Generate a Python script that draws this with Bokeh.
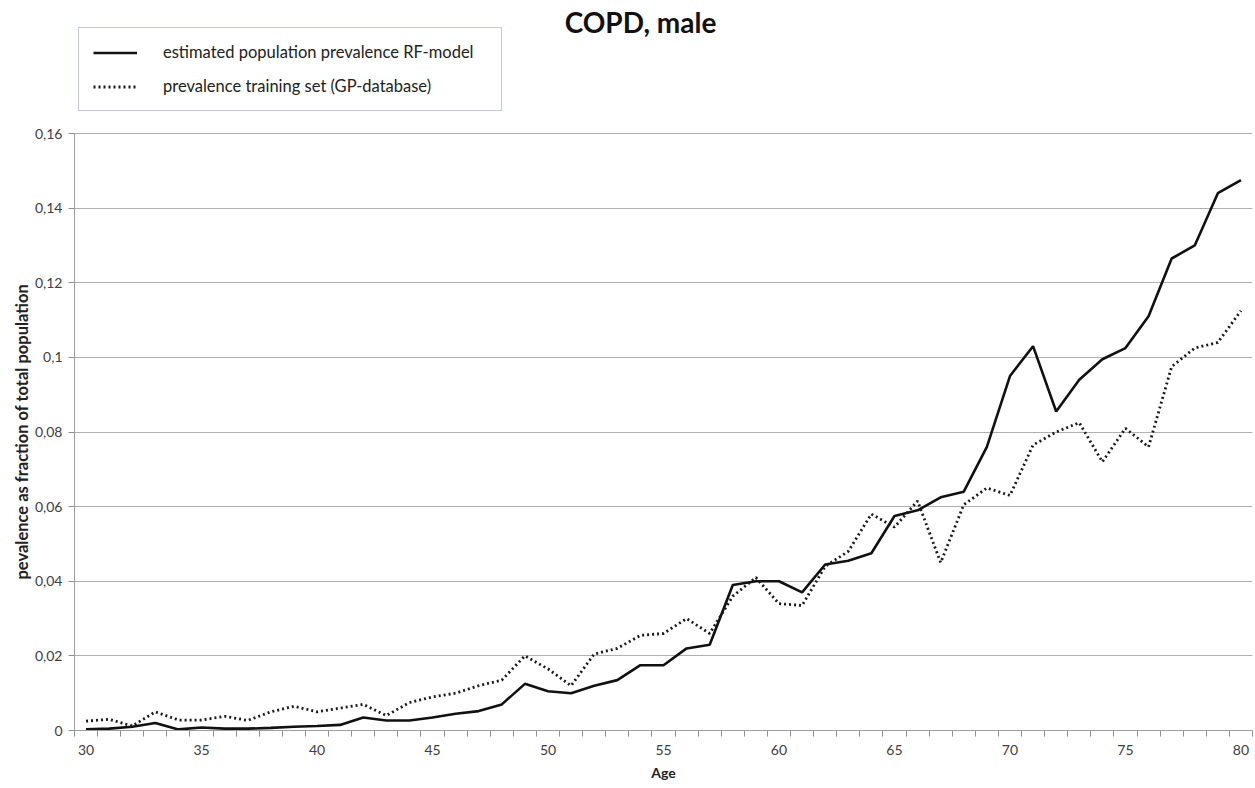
from bokeh.plotting import figure
from bokeh.models import Range1d, FixedTicker, Legend, LegendItem, Label, Title
from bokeh.embed import file_html
from bokeh.resources import INLINE

ages = list(range(30, 81))
rf_model = [0.0003, 0.0005, 0.0010, 0.0020, 0.0003, 0.0008, 0.0005, 0.0005, 0.0007, 0.0010,
            0.0012, 0.0015, 0.0035, 0.0027, 0.0027, 0.0035, 0.0045, 0.0052, 0.0070, 0.0125,
            0.0105, 0.0100, 0.0120, 0.0135, 0.0175, 0.0175, 0.0220, 0.0230, 0.0390, 0.0400,
            0.0400, 0.0370, 0.0445, 0.0455, 0.0475, 0.0575, 0.0590, 0.0625, 0.0640, 0.0760,
            0.0950, 0.1030, 0.0855, 0.0940, 0.0995, 0.1025, 0.1110, 0.1265, 0.1300, 0.1440,
            0.1475]
gp_database = [0.0025, 0.0030, 0.0012, 0.0050, 0.0028, 0.0028, 0.0038, 0.0027, 0.0050, 0.0065,
               0.0050, 0.0060, 0.0070, 0.0040, 0.0075, 0.0090, 0.0100, 0.0120, 0.0135, 0.0200,
               0.0165, 0.0120, 0.0205, 0.0220, 0.0255, 0.0260, 0.0300, 0.0260, 0.0360, 0.0410,
               0.0340, 0.0335, 0.0440, 0.0480, 0.0580, 0.0545, 0.0615, 0.0450, 0.0605, 0.0650,
               0.0630, 0.0765, 0.0800, 0.0825, 0.0720, 0.0810, 0.0760, 0.0975, 0.1025, 0.1040,
               0.1125]

x_ticks = [30, 35, 40, 45, 50, 55, 60, 65, 70, 75, 80]
x_minor_ticks = [29.5 + i for i in range(52)]
y_ticks = [0, 0.02, 0.04, 0.06, 0.08, 0.1, 0.12, 0.14, 0.16]
y_tick_labels = ["0", "0,02", "0,04", "0,06", "0,08", "0,1", "0,12", "0,14", "0,16"]

series_names = ["estimated population prevalence RF-model",
                "prevalence training set (GP-database)"]
title_text = "COPD, male"
x_label = "Age"
y_label = "pevalence as fraction of total population"

FONT = "Lato"

# layout (pixels inside the figure)
W, H = 1255, 788
BORDER_LEFT, BORDER_BOTTOM, BORDER_RIGHT = 74, 58, 3
FRAME_H = H - BORDER_BOTTOM          # frame spans the whole height above the x axis
AXIS_TOP_PX = 133                    # where 0,16 sits, measured from the top
y_max = y_ticks[-1]
y_end = y_max * FRAME_H / (FRAME_H - AXIS_TOP_PX)

p = figure(width=W, height=H, output_backend="svg", toolbar_location=None,
           x_range=Range1d(29.5, 80.5), y_range=Range1d(0, y_end),
           min_border_left=BORDER_LEFT, min_border_right=BORDER_RIGHT, min_border_top=0,
           min_border_bottom=BORDER_BOTTOM, title_location=None)
p.outline_line_color = None
p.background_fill_color = "white"

r1 = p.line(ages, rf_model, line_color="#111111", line_width=2.6)
r2 = p.line(ages, gp_database, line_color="#1a1a1a", line_width=2.8, line_dash="2 3")

xa = p.xaxis[0]
xa.ticker = FixedTicker(ticks=x_ticks, minor_ticks=x_minor_ticks)
xa.major_tick_out = 0
xa.major_tick_in = 0
xa.minor_tick_out = 6
xa.minor_tick_in = 0
xa.minor_tick_line_color = "#909090"
xa.axis_line_color = "#a0a0a0"
xa.major_label_standoff = 8
xa.major_label_text_font = FONT
xa.major_label_text_font_size = "14px"
xa.major_label_text_color = "#404040"
xa.axis_label = x_label
xa.axis_label_text_font = FONT
xa.axis_label_text_font_size = "14px"
xa.axis_label_text_font_style = "bold"
xa.axis_label_text_color = "#222222"
xa.axis_label_standoff = 6

ya = p.yaxis[0]
ya.bounds = (0, y_max)
ya.ticker = FixedTicker(ticks=y_ticks, minor_ticks=[])
ya.major_label_overrides = {k: v for k, v in zip(y_ticks, y_tick_labels)}
ya.major_tick_out = 6
ya.major_tick_in = 0
ya.major_tick_line_color = "#909090"
ya.axis_line_color = "#a0a0a0"
ya.major_label_standoff = 6
ya.major_label_text_font = FONT
ya.major_label_text_font_size = "14px"
ya.major_label_text_color = "#404040"

y_title = Title(text=y_label, align="left", offset=151, standoff=0, text_font=FONT,
                text_font_size="16.5px", text_font_style="bold", text_color="#222222")
p.add_layout(y_title, "left")

p.xgrid.grid_line_color = None
p.ygrid.ticker = FixedTicker(ticks=y_ticks)
p.ygrid.grid_line_color = "#b5afaf"
p.ygrid.grid_line_width = 1

legend = Legend(items=[LegendItem(label=series_names[0], renderers=[r1]),
                       LegendItem(label=series_names[1], renderers=[r2])],
                location=(4, FRAME_H - 111), orientation="vertical",
                padding=14, spacing=14, glyph_width=44, glyph_height=17,
                label_height=17, label_standoff=26, label_width=324,
                label_text_font=FONT, label_text_font_size="16.5px",
                label_text_color="#222222",
                border_line_color="#8a93c4", border_line_width=1,
                background_fill_color="white", background_fill_alpha=1)
p.add_layout(legend, "center")

title = Label(x=640 - BORDER_LEFT, y=FRAME_H - 21, x_units="screen", y_units="screen",
              text=title_text, text_align="center", text_baseline="middle", text_font=FONT,
              text_font_size="28px", text_font_style="bold", text_color="#111111")
p.add_layout(title)

open("out.html", "w").write(file_html(p, INLINE))
